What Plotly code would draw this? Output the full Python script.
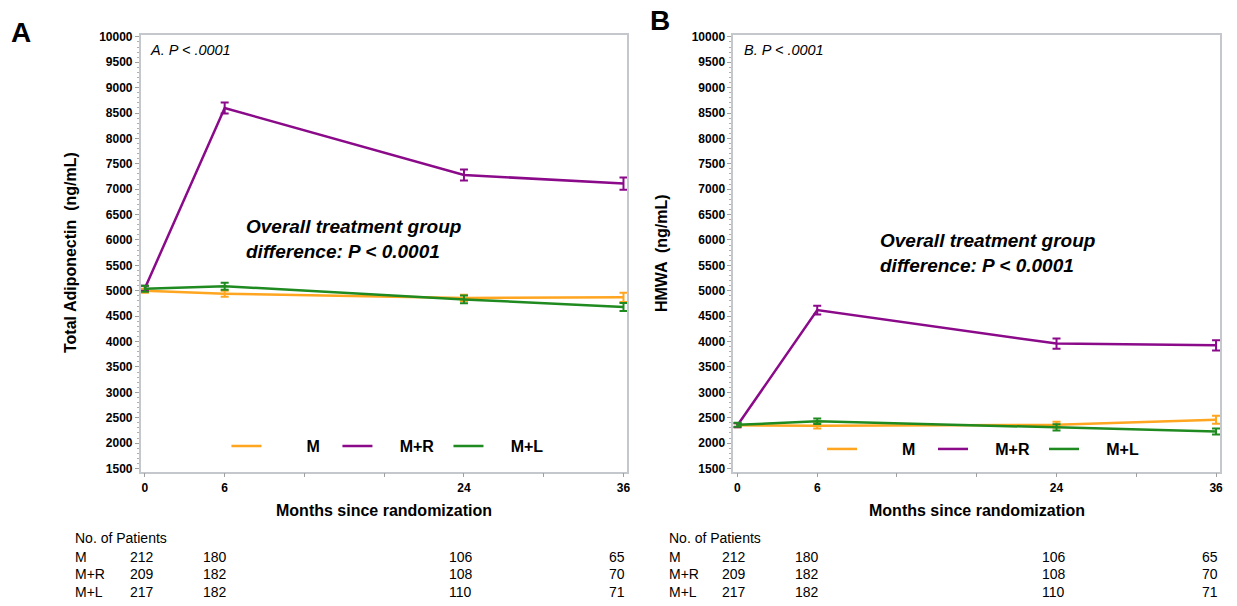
import plotly.graph_objects as go

# ---------------- data ----------------
months = [0, 6, 24, 36]
groups = ["M", "M+R", "M+L"]

# Panel A: Total adiponectin (ng/mL), mean and error
a_M = [5000, 4940, 4860, 4870]
a_M_err = [40, 60, 60, 90]
a_MR = [5050, 8600, 7280, 7110]
a_MR_err = [50, 110, 110, 120]
a_ML = [5040, 5090, 4830, 4680]
a_ML_err = [60, 70, 75, 80]

# Panel B: HMWA (ng/mL)
b_M = [2350, 2340, 2360, 2460]
b_M_err = [40, 50, 60, 80]
b_MR = [2350, 4620, 3960, 3925]
b_MR_err = [40, 85, 100, 100]
b_ML = [2360, 2430, 2310, 2230]
b_ML_err = [40, 55, 60, 60]

# number of patients table
n_M = [212, 180, 106, 65]
n_MR = [209, 182, 108, 70]
n_ML = [217, 182, 110, 71]

x_tickvals = [0, 6, 12, 18, 24, 30, 36]
x_ticktext = ["0", "6", "", "", "24", "", "36"]
y_tickvals = list(range(1500, 10001, 500))
y_ticktext = [str(v) for v in y_tickvals]

# ---------------- style ----------------
W, H = 1237, 606
FONT = "Liberation Sans, Arial, sans-serif"
colors = {"M": "#ffa51f", "M+R": "#8a0a8a", "M+L": "#1f8a1f"}
FRAME = "#c4c8cc"


def px(x):
    return x / W


def py(y):
    return 1 - y / H


fig = go.Figure()

panelA = {"M": (a_M, a_M_err), "M+R": (a_MR, a_MR_err), "M+L": (a_ML, a_ML_err)}
panelB = {"M": (b_M, b_M_err), "M+R": (b_MR, b_MR_err), "M+L": (b_ML, b_ML_err)}

# legend label padding (right aligned labels like the SAS legend)
pad = {"M": "\u00a0" * 9, "M+R": "\u00a0" * 5, "M+L": "\u00a0" * 5}

for g in groups:
    vals, err = panelA[g]
    fig.add_trace(go.Scatter(
        x=months, y=vals, mode="lines", name=pad[g] + g,
        line=dict(color=colors[g], width=2.5),
        error_y=dict(type="data", array=err, visible=True, thickness=2, width=4, color=colors[g]),
        xaxis="x", yaxis="y", legend="legend", showlegend=True,
    ))
for g in groups:
    vals, err = panelB[g]
    fig.add_trace(go.Scatter(
        x=months, y=vals, mode="lines", name=pad[g] + g,
        line=dict(color=colors[g], width=2.5),
        error_y=dict(type="data", array=err, visible=True, thickness=2, width=4, color=colors[g]),
        xaxis="x2", yaxis="y2", legend="legend2", showlegend=True,
    ))

tickfont = dict(family=FONT, size=12, color="black", weight="bold")

xaxis_common = dict(
    range=[-0.32, 36.3], tickvals=x_tickvals, ticktext=x_ticktext,
    showline=True, linecolor=FRAME, linewidth=1.5, mirror=True,
    ticks="outside", ticklen=4, tickcolor="#a0a0a0", tickwidth=1,
    showgrid=False, zeroline=False, tickfont=tickfont, fixedrange=True,
)
yaxis_common = dict(
    range=[1436, 10045], tickvals=y_tickvals, ticktext=y_ticktext,
    showline=True, linecolor=FRAME, linewidth=1.5, mirror=True,
    ticks="outside", ticklen=4, tickcolor="#a0a0a0", tickwidth=1,
    minor=dict(dtick=100, ticks="outside", ticklen=2, tickcolor="#b0b0b0"),
    showgrid=False, zeroline=False, tickfont=tickfont, fixedrange=True,
)

yd = [py(474), py(31)]
fig.update_layout(
    width=W, height=H,
    margin=dict(l=0, r=0, t=0, b=0, pad=0),
    paper_bgcolor="white", plot_bgcolor="white",
    font=dict(family=FONT, color="black"),
    xaxis=dict(domain=[px(141), px(629)], anchor="y", **xaxis_common),
    yaxis=dict(domain=yd, anchor="x", **yaxis_common),
    xaxis2=dict(domain=[px(735), px(1223)], anchor="y2", **xaxis_common),
    yaxis2=dict(domain=yd, anchor="x2", **yaxis_common),
    legend=dict(orientation="h", x=px(227), xanchor="left", y=py(448), yanchor="middle",
                bgcolor="rgba(0,0,0,0)", font=dict(family=FONT, size=16, weight="bold", color="black"),
                entrywidth=66, entrywidthmode="pixels", traceorder="normal"),
    legend2=dict(orientation="h", x=px(824), xanchor="left", y=py(451), yanchor="middle",
                 bgcolor="rgba(0,0,0,0)", font=dict(family=FONT, size=16, weight="bold", color="black"),
                 entrywidth=66, entrywidthmode="pixels", traceorder="normal"),
    showlegend=True,
)

ann = []


def text(x, y, s, size, bold=False, italic=False, xanchor="left", yanchor="middle", angle=0):
    ann.append(dict(
        x=px(x), y=py(y), xref="paper", yref="paper", text=s, showarrow=False,
        xanchor=xanchor, yanchor=yanchor, textangle=angle, align="left",
        font=dict(family=FONT, size=size, color="black",
                  weight="bold" if bold else "normal",
                  style="italic" if italic else "normal"),
    ))


# panel letters
text(9, 29, "A", 28, bold=True)
text(650, 17, "B", 28, bold=True)
# in-plot labels
text(148, 47, "A. P < .0001", 14.5, italic=True)
text(744, 47, "B. P < .0001", 14.5, italic=True)
text(245, 238, "Overall treatment group<br>difference: P < 0.0001", 19, bold=True, italic=True)
text(880, 252, "Overall treatment group<br>difference: P < 0.0001", 19, bold=True, italic=True)
# axis titles
text(385, 513, "Months since randomization", 16, bold=True, xanchor="center")
text(979, 513, "Months since randomization", 16, bold=True, xanchor="center")
text(70.5, 252, "Total Adiponectin  (ng/mL)", 16, bold=True, xanchor="center", angle=-90)
text(663, 252, "HMWA  (ng/mL)", 16, bold=True, xanchor="center", angle=-90)

# number at risk table
col_shift = [-3, -10, -3, -6]
rows_y = [560, 578, 596]
for lx, xref in [(73.5, "x"), (669, "x2")]:
    text(lx, 541, "No. of Patients", 14)
    for g, counts, ry in zip(groups, [n_M, n_MR, n_ML], rows_y):
        text(lx, ry, g, 14)
        for m, c, sh in zip(months, counts, col_shift):
            ann.append(dict(
                x=m, y=py(ry), xref=xref, yref="paper", text=str(c), showarrow=False,
                xanchor="center", yanchor="middle", xshift=sh,
                font=dict(family=FONT, size=14, color="black"),
            ))

fig.update_layout(annotations=ann)

fig.write_html("out.html", config={"displayModeBar": False},
               post_script="document.body.style.margin='0';document.body.style.overflow='hidden';")
